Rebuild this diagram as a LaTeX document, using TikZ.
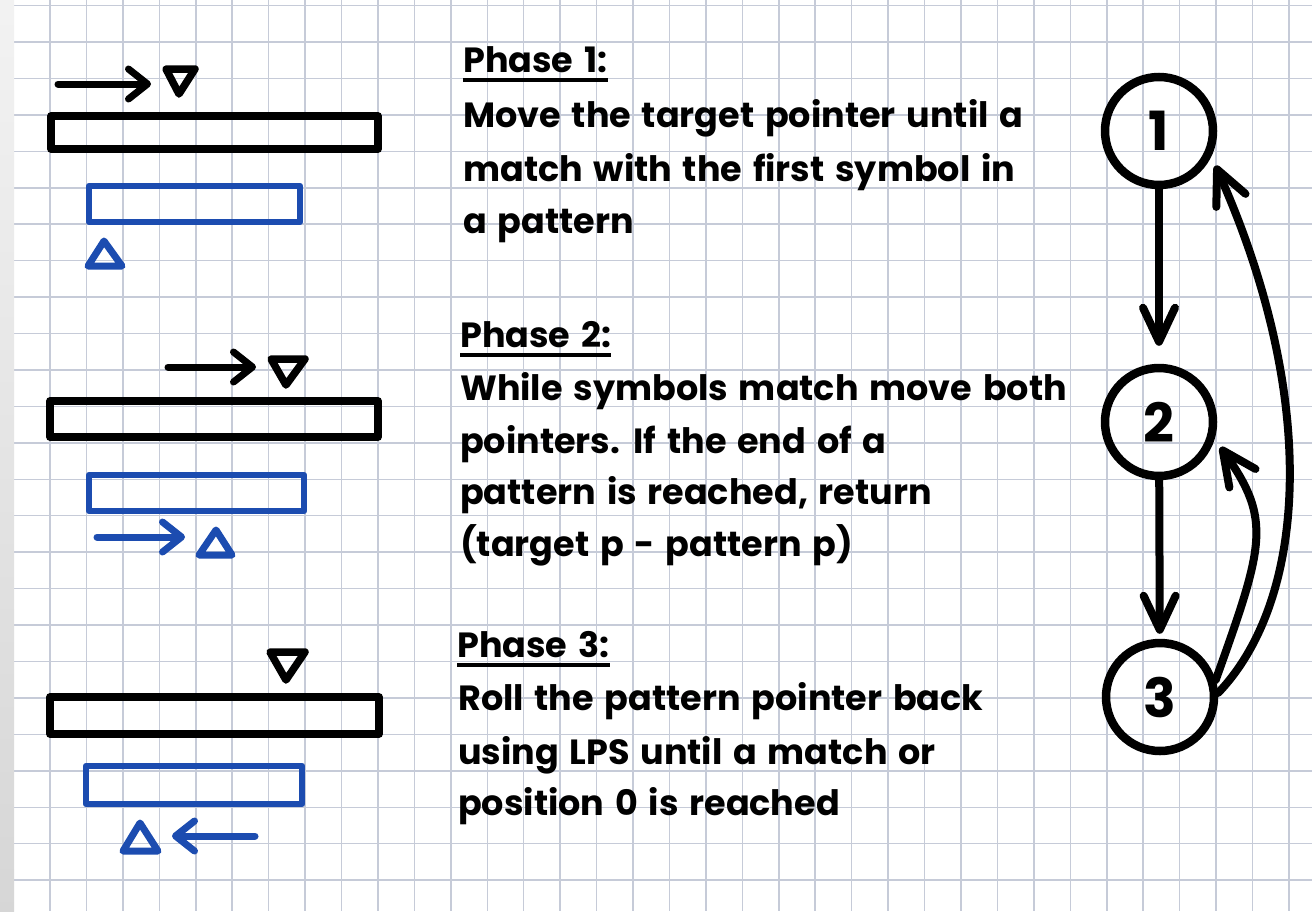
\documentclass[tikz,border=0pt]{standalone}
\usepackage{fontspec}
\setmainfont[WordSpace=1.45]{Poppins}
\usetikzlibrary{arrows.meta}
\definecolor{gridc}{RGB}{198,203,216}
\definecolor{pblue}{RGB}{28,76,176}
\begin{document}
\begin{tikzpicture}[x=1pt,y=-1pt,
  gridline/.style={draw=gridc,line width=1.5pt},
  tbar/.style={draw=black,line width=7.5pt,line join=round},
  pbar/.style={draw=pblue,line width=6.5pt,line join=round},
  ttri/.style={draw=black,line width=7.5pt,line join=round},
  ptri/.style={draw=pblue,line width=7pt,line join=round},
  sarrow/.style={line width=7pt,line cap=round,-{Straight Barb[length=19pt,width=30pt,round]}},
  bigarrow/.style={draw=black,line width=8pt,line cap=round,-{Straight Barb[length=34pt,width=32pt,round]}},
  state/.style={circle,draw=black,line width=8.5pt,minimum size=108pt,inner sep=0pt,font=\fontsize{54}{60}\selectfont\bfseries},
  txt/.style={anchor=base west,inner sep=0pt,font=\fontsize{35}{42}\selectfont\bfseries},
  uline/.style={draw=black,line width=4.5pt}
]
\useasboundingbox (0,0) rectangle (1312,911);
\fill[white] (0,0) rectangle (1312,911);
% grid
\foreach \i in {-1,...,34} \draw[gridline] ({50+36.44*\i},0) -- ({50+36.44*\i},911);
\foreach \j in {-1,...,23} \draw[gridline] (0,{42+36.44*\j}) -- (1312,{42+36.44*\j});
\shade[top color=gray!10,bottom color=gray!32] (0,0) rectangle (14,911);

% ---------- Phase 1 sketch ----------
\coordinate (a1s) at (58,84); \coordinate (a1e) at (151,84);
\draw[sarrow,black] (a1s) -- (a1e);
\draw[ttri] (166,69) -- (195,69) -- (179,94) -- cycle;
\draw[tbar] (51,116) rectangle (378,149);
\draw[pbar] (89,186) rectangle (300,222);
\draw[ptri] (88,266) -- (122,266) -- (104,241) -- cycle;

% ---------- Phase 2 sketch ----------
\coordinate (a2s) at (168,367); \coordinate (a2e) at (256,367);
\draw[sarrow,black] (a2s) -- (a2e);
\draw[ttri] (271,359) -- (305,359) -- (286,385) -- cycle;
\draw[tbar] (50,401) rectangle (378,437);
\draw[pbar] (89,475) rectangle (304,511);
\coordinate (b2s) at (97,537); \coordinate (b2e) at (185,537);
\draw[sarrow,pblue] (b2s) -- (b2e);
\draw[ptri] (199,555) -- (232,555) -- (216,530) -- cycle;

% ---------- Phase 3 sketch ----------
\draw[ttri] (270,652) -- (305,652) -- (286,680) -- cycle;
\draw[tbar] (50,697) rectangle (379,734);
\draw[pbar] (86,766) rectangle (302,804);
\draw[ptri] (123,851) -- (158,851) -- (140,823) -- cycle;
\coordinate (b3s) at (255,836); \coordinate (b3e) at (172,836);
\draw[sarrow,pblue] (b3s) -- (b3e);

% ---------- Text ----------
\node[txt] (p1t) at (463,72) {Phase 1:};
\draw[uline] ([yshift=-8pt]p1t.base west) -- ([yshift=-8pt]p1t.base east);
\node[txt] (p1a) at (463,127) {Move the target pointer until a};
\node[txt] (p1b) at (463,181) {match with the first symbol in};
\node[txt] (p1c) at (463,233) {a pattern};

\node[txt] (p2t) at (460,347) {Phase 2:};
\draw[uline] ([yshift=-8pt]p2t.base west) -- ([yshift=-8pt]p2t.base east);
\node[txt] (p2a) at (460,400) {While symbols match move both};
\node[txt] (p2b) at (460,453) {pointers. If the end of a};
\node[txt] (p2c) at (460,504) {pattern is reached, return};
\node[txt] (p2d) at (460,556) {(target p - pattern p)};

\node[txt] (p3t) at (457,657) {Phase 3:};
\draw[uline] ([yshift=-8pt]p3t.base west) -- ([yshift=-8pt]p3t.base east);
\node[txt] (p3a) at (458,710) {Roll the pattern pointer back};
\node[txt] (p3b) at (458,764) {using LPS until a match or};
\node[txt] (p3c) at (458,815) {position 0 is reached};

% ---------- State graph ----------
\node[state] (c1) at (1159,131) {1};
\node[state] (c2) at (1159,422) {2};
\node[state] (c3) at (1160,697) {3};
\draw[bigarrow,shorten >=18pt] (c1) -- (c2);
\draw[bigarrow,shorten >=5pt] (c2) -- (c3);
\draw[bigarrow,shorten >=10pt] (c3.17) .. controls (1264,545) and (1272,520) .. (c2.-17);
\draw[bigarrow,shorten >=10pt] (c3.4) .. controls (1307,600) and (1320,400) .. (c1.-26);
\end{tikzpicture}
\end{document}
